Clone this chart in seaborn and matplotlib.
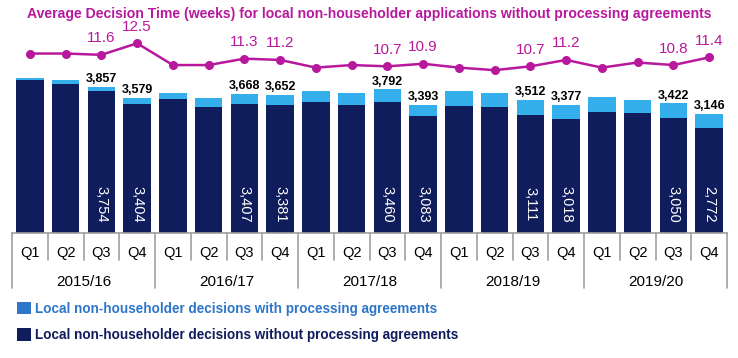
import numpy as np
import matplotlib
matplotlib.use('Agg')
import matplotlib.pyplot as plt
import seaborn as sns
import pandas as pd
from matplotlib.patches import Patch

# datos
years = ['2015/16', '2016/17', '2017/18', '2018/19', '2019/20']
quarters = ['Q1', 'Q2', 'Q3', 'Q4']
total_decisions = [4098, 4037, 3857, 3579, 3686, 3554, 3668, 3652, 3747, 3702,
                   3792, 3393, 3755, 3686, 3512, 3377, 3580, 3509, 3422, 3146]
without_agreements = [4055, 3940, 3754, 3404, 3528, 3316, 3407, 3381, 3465, 3385,
                      3460, 3083, 3359, 3316, 3111, 3018, 3200, 3174, 3050, 2772]
avg_weeks = [11.7, 11.7, 11.6, 12.5, 10.8, 10.8, 11.3, 11.2, 10.6, 10.8,
             10.7, 10.9, 10.6, 10.4, 10.7, 11.2, 10.6, 11.0, 10.8, 11.4]
title = 'Average Decision Time (weeks) for local non-householder applications without processing agreements'
legend_labels = ['Local non-householder decisions with processing agreements',
                 'Local non-householder decisions without processing agreements']

c_light = '#35AEEC'
c_dark = '#101D5C'
c_line = '#B8189C'
c_legend = '#2E76C9'

periods = [f'{y} {q}' for y in years for q in quarters]
df = pd.DataFrame({'period': periods, 'total': total_decisions,
                   'without': without_agreements, 'weeks': avg_weeks})

sns.set_style('white')
plt.rcParams['font.family'] = ['Liberation Sans', 'DejaVu Sans']

fig = plt.figure(figsize=(7.38, 3.58), dpi=100)
W, H = 738, 358
ax = fig.add_axes([12 / W, 1 - 233 / H, (727 - 12) / W, (233 - 20) / H])

sns.barplot(data=df, x='period', y='total', order=periods, color=c_light,
            saturation=1, width=0.77, linewidth=0, ax=ax)
sns.barplot(data=df, x='period', y='without', order=periods, color=c_dark,
            saturation=1, width=0.77, linewidth=0, ax=ax)
ax.set_ylim(0, 213 * 26.42)
ax.set_xlim(-0.5, len(periods) - 0.5)
ax.set_xticks([])
ax.set_yticks([])
ax.set_xlabel('')
ax.set_ylabel('')
for s in ['left', 'right', 'top']:
    ax.spines[s].set_visible(False)
ax.spines['bottom'].set_color('#A0A0A0')
ax.spines['bottom'].set_linewidth(1.2)

# etiquetas de Q3 y Q4
for i in range(len(periods)):
    if i % 4 in (2, 3):
        ax.annotate(f'{total_decisions[i]:,}', (i, total_decisions[i]),
                    xytext=(0, 3.5), textcoords='offset points', ha='center',
                    va='baseline', fontsize=9, fontweight='bold', color='black')
        ax.text(i, 760, f'{without_agreements[i]:,}', rotation=270, ha='center',
                va='center', fontsize=10.5, color='white')

# eje de categorias en dos niveles
tr = ax.get_xaxis_transform()
for i in range(len(periods) + 1):
    bottom = -0.258 if i % 4 == 0 else -0.127
    ax.plot([i - 0.5, i - 0.5], [0, bottom], transform=tr, color='#A0A0A0',
            lw=1.2, clip_on=False)
for i, p in enumerate(periods):
    ax.text(i, -0.095, quarters[i % 4], transform=tr, ha='center', va='center',
            fontsize=10.5, color='black')
for j, y in enumerate(years):
    ax.text(j * 4 + 1.5, -0.228, y, transform=tr, ha='center', va='center',
            fontsize=11, color='black')

# linea de semanas
ax2 = ax.twinx()
sns.lineplot(x=np.arange(len(periods)), y=avg_weeks, ax=ax2, color=c_line,
             marker='o', markersize=6.5, markeredgewidth=0, linewidth=1.8)
ax2.set_ylim(-2.32, 14.32)
ax2.set_xlim(-0.5, len(periods) - 0.5)
ax2.set_yticks([])
ax2.set_ylabel('')
for s in ax2.spines.values():
    s.set_visible(False)
for i in range(len(periods)):
    if i % 4 in (2, 3):
        ax2.annotate(f'{avg_weeks[i]:.1f}', (i, avg_weeks[i]), xytext=(0, 9),
                     textcoords='offset points', ha='center', va='baseline',
                     fontsize=11, color=c_line)

fig.text(0.5, 1 - 14 / H, title, ha='center', va='center', fontsize=10.1,
         fontweight='bold', color=c_line)

handles = [Patch(facecolor=c_legend, edgecolor='none'),
           Patch(facecolor=c_dark, edgecolor='none')]
fig.legend(handles, legend_labels, loc='upper left',
           bbox_to_anchor=(17 / W, 1 - 302 / H), frameon=False,
           prop={'size': 9.75, 'weight': 'bold'}, labelcolor=[c_legend, c_dark],
           handlelength=1.0, handleheight=1.0, handletextpad=0.35,
           labelspacing=0.9, borderpad=0, borderaxespad=0)

fig.savefig('out.png', dpi=100)
